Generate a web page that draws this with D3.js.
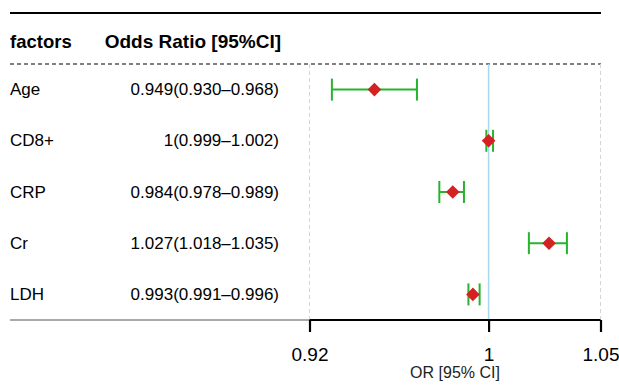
<!DOCTYPE html>
<html>
<head>
<meta charset="utf-8">
<script src="https://cdn.jsdelivr.net/npm/d3@7"></script>
<style>
  html, body { margin: 0; padding: 0; background: #fff; }
  svg { display: block; font-family: "Liberation Sans", Arial, sans-serif; }
</style>
</head>
<body>
<svg id="chart" width="619" height="385"></svg>
<script>
// Logistic regression results: odds ratios with 95% confidence intervals
const factors = ["Age", "CD8+", "CRP", "Cr", "LDH"];
const orValues = [0.949, 1, 0.984, 1.027, 0.993];
const ciLower = [0.930, 0.999, 0.978, 1.018, 0.991];
const ciUpper = [0.968, 1.002, 0.989, 1.035, 0.996];
const orLabels = ["0.949(0.930\u20130.968)", "1(0.999\u20131.002)", "0.984(0.978\u20130.989)",
                  "1.027(1.018\u20131.035)", "0.993(0.991\u20130.996)"];
const xTicks = [0.92, 1, 1.05];
const headers = ["factors", "Odds Ratio [95%CI]"];

const rows = factors.map((f, i) => ({
  factor: f, or: orValues[i], lo: ciLower[i], hi: ciUpper[i], label: orLabels[i]
}));

const svg = d3.select("#chart");

const tableLeft = 10, tableRight = 601;
const topLine = 13, headerLine = 64, bottomLine = 320;

const x = d3.scaleLinear().domain([0.92, 1.05]).range([309.5, 600.5]);
const y = d3.scaleBand().domain(factors).range([headerLine, bottomLine]);
const yc = f => y(f) + y.bandwidth() / 2;

// Table frame lines
svg.append("line")
  .attr("x1", tableLeft).attr("x2", tableRight)
  .attr("y1", topLine).attr("y2", topLine)
  .attr("stroke", "#000").attr("stroke-width", 2);

svg.append("line")
  .attr("x1", tableLeft).attr("x2", tableRight)
  .attr("y1", headerLine).attr("y2", headerLine)
  .attr("stroke", "#000").attr("stroke-width", 1)
  .attr("stroke-dasharray", "4,3");

svg.append("line")
  .attr("x1", tableLeft).attr("x2", x(0.92))
  .attr("y1", bottomLine).attr("y2", bottomLine)
  .attr("stroke", "#555").attr("stroke-width", 1);

// Header text
svg.append("text")
  .attr("x", tableLeft).attr("y", 41)
  .attr("dominant-baseline", "central")
  .attr("font-weight", "bold").attr("font-size", 18.5)
  .text(headers[0]);
svg.append("text")
  .attr("x", 281).attr("y", 41)
  .attr("text-anchor", "end")
  .attr("dominant-baseline", "central")
  .attr("font-weight", "bold").attr("font-size", 19)
  .text(headers[1]);

// Row labels
const rowG = svg.append("g");
rowG.selectAll("text.factor")
  .data(rows).join("text")
  .attr("class", "factor")
  .attr("x", tableLeft).attr("y", d => yc(d.factor))
  .attr("dominant-baseline", "central")
  .attr("font-size", 17)
  .text(d => d.factor);
rowG.selectAll("text.orlab")
  .data(rows).join("text")
  .attr("class", "orlab")
  .attr("x", 279).attr("y", d => yc(d.factor))
  .attr("text-anchor", "end")
  .attr("dominant-baseline", "central")
  .attr("font-size", 17)
  .text(d => d.label);

// Plot boundaries (dashed grey) and reference line at OR = 1
[0.92, 1.05].forEach(v => {
  svg.append("line")
    .attr("x1", x(v)).attr("x2", x(v))
    .attr("y1", headerLine).attr("y2", bottomLine)
    .attr("stroke", "#d4d4d4").attr("stroke-width", 1)
    .attr("stroke-dasharray", "4,3");
});
svg.append("line")
  .attr("x1", x(1)).attr("x2", x(1))
  .attr("y1", headerLine).attr("y2", bottomLine)
  .attr("stroke", "#a9d8ee").attr("stroke-width", 1.5);

// Confidence intervals
const ciG = svg.append("g").attr("stroke", "#27b32e").attr("stroke-width", 2);
ciG.selectAll("line.ci")
  .data(rows).join("line").attr("class", "ci")
  .attr("x1", d => x(d.lo)).attr("x2", d => x(d.hi))
  .attr("y1", d => yc(d.factor)).attr("y2", d => yc(d.factor));
const capH = 11;
ciG.selectAll("line.capL")
  .data(rows).join("line").attr("class", "capL")
  .attr("x1", d => x(d.lo)).attr("x2", d => x(d.lo))
  .attr("y1", d => yc(d.factor) - capH).attr("y2", d => yc(d.factor) + capH);
ciG.selectAll("line.capR")
  .data(rows).join("line").attr("class", "capR")
  .attr("x1", d => x(d.hi)).attr("x2", d => x(d.hi))
  .attr("y1", d => yc(d.factor) - capH).attr("y2", d => yc(d.factor) + capH);

// Point estimates as diamonds
const r = 6.8;
svg.append("g").selectAll("path")
  .data(rows).join("path")
  .attr("fill", "#d42121")
  .attr("d", d => {
    const cx = x(d.or), cy = yc(d.factor);
    return `M${cx},${cy - r}L${cx + r},${cy}L${cx},${cy + r}L${cx - r},${cy}Z`;
  });

// X axis
const axis = svg.append("g")
  .attr("transform", `translate(0,${bottomLine})`)
  .call(d3.axisBottom(x).tickValues(xTicks).tickFormat(d3.format("")).tickSize(12).tickPadding(16));
axis.select(".domain").attr("stroke", "#000").attr("stroke-width", 2.2)
  .attr("d", `M${x(0.92)},0H${x(1.05)}`);
axis.selectAll(".tick line").attr("stroke", "#000").attr("stroke-width", 2.2);
axis.selectAll(".tick text")
  .attr("font-family", "Liberation Sans, Arial, sans-serif")
  .attr("font-size", 19).attr("fill", "#000");

svg.append("text")
  .attr("x", (x(0.92) + x(1.05)) / 2).attr("y", 378)
  .attr("text-anchor", "middle")
  .attr("font-size", 16).attr("fill", "#222")
  .text("OR [95% CI]");
</script>
</body>
</html>
